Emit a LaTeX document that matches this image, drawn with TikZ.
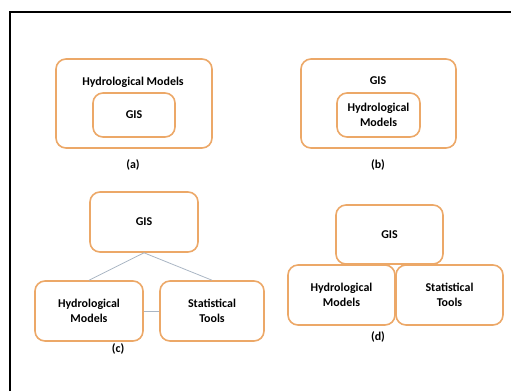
\documentclass[tikz,border=0pt]{standalone}
\usepackage{fontspec}
\setmainfont{Carlito}
\definecolor{boxorange}{RGB}{236,168,104}
\definecolor{linkgray}{RGB}{170,182,196}

\begin{document}
\begin{tikzpicture}[x=1bp,y=-1bp,
  every node/.style={font=\bfseries\fontsize{12}{15}\selectfont,align=center,inner sep=0pt},
  box/.style={draw=boxorange,line width=1.6bp,rounded corners=10bp},
  link/.style={draw=linkgray,line width=0.8bp}]
\useasboundingbox (0,0) rectangle (511,391);
\draw[line width=2bp] (10,391) -- (10,12) -- (511,12);
% (a)
\node[box,minimum width=156bp,minimum height=89bp] (aout) at (134,103.5) {};
\node (atxt) at (133,82) {Hydrological Models};
\node[box,minimum width=82bp,minimum height=44bp] (ain) at (134,115) {GIS};
\node (acap) at (133,165) {(a)};
% (b)
\node[box,minimum width=155bp,minimum height=89bp] (bout) at (378.5,103.5) {};
\node (btxt) at (378,81) {GIS};
\node[box,minimum width=83bp,minimum height=44bp] (bin) at (378.5,115) {Hydrological\\Models};
\node (bcap) at (378,165) {(b)};
% (c)
\node[box,minimum width=108bp,minimum height=60bp] (cgis) at (144,222) {GIS};
\node[box,minimum width=108bp,minimum height=60bp] (chyd) at (89,311) {Hydrological\\Models};
\node[box,minimum width=104bp,minimum height=60bp] (csta) at (212,311) {Statistical\\Tools};
\node (ccap) at (118,349) {(c)};
\draw[link] (cgis.south) -- (chyd.north);
\draw[link] (cgis.south) -- (csta.north);
\draw[link] (chyd) -- (csta);
% (d)
\node[box,minimum width=107bp,minimum height=59bp] (dgis) at (389.5,234.5) {GIS};
\node[box,minimum width=107bp,minimum height=60bp] (dhyd) at (341.5,295) {Hydrological\\Models};
\node[box,minimum width=107bp,minimum height=60bp] (dsta) at (449.5,295) {Statistical\\Tools};
\node (dcap) at (378,337) {(d)};
\end{tikzpicture}
\end{document}
